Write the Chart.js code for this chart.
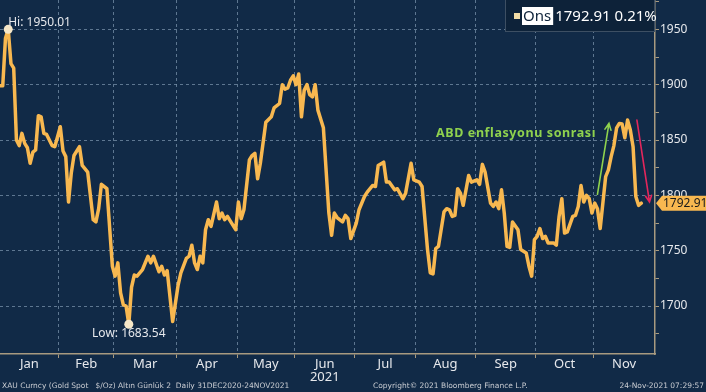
<!DOCTYPE html>
<html>
<head>
<meta charset="utf-8">
<script src="https://cdn.jsdelivr.net/npm/chart.js@4.4.0/dist/chart.umd.min.js"></script>
<style>
  html, body { margin: 0; padding: 0; background: #112a47; }
  #wrap { width: 706px; height: 392px; position: relative; }
</style>
</head>
<body>
<div id="wrap"><canvas id="gold"></canvas></div>
<script>
// Gold spot (XAU) daily, 31 Dec 2020 - 24 Nov 2021, x = weekday number since 31 Dec
const tradingDay = [0,1,2,3,4,5,6,7,8,9,10,11,12,13,14,15,16,17,19,20,22,23,24,25,26,27,29,30,32,34,35,36,37,39,
  41,42,43,44,45,46,47,48,49,50,52,54,55,56,58,59,60,61,63,65,66,68,69,70,71,72,73,74,75,76,77,79,80,
  81,82,83,84,86,87,88,89,91,92,93,94,95,97,99,100,102,103,104,105,106,107,108,109,110,111,112,113,114,115,116,118,
  120,121,122,123,125,126,127,128,130,131,133,134,136,137,138,140,141,142,144,145,147,148,150,151,153,154,156,157,158,159,160,
  162,163,164,165,166,167,168,169,171,172,174,175,176,177,179,180,181,182,183,184,185,186,187,189,190,192,193,194,195,196,197,198,199,200,
  202,203,204,205,206,207,209,210,211,212,213,214,215,216,217,218,219,221,222,223,224,225,226,227,228,229,230,231,232,233,234];
const price = [1899,1899,1942,1950.01,1919,1915,1850,1845,1856,1847,1843,1829,1839,1841,1872,1871,1856,1855,1845,1844,1862,1840,1835,1794,1820,1836,1844,1827,1821,1778,1776,1788,1810,1806,
  1736,1727,1739,1712,1701,1700,1683.54,1717,1728,1727,1733,1745,1739,1745,1731,1736,1728,1732,1686,1719,1730,1743,1745,1755,1739,1733,1745,1739,1769,1778,1772,1794,1779,
  1784,1778,1781,1777,1769,1794,1779,1787,1832,1836,1838,1815,1829,1866,1871,1879,1883,1900,1896,1897,1904,1908,1900,1909.6,1871,1895,1900,1891,1889,1900,1877,1861,
  1784,1764,1784,1780,1776,1782,1779,1761,1775,1787,1799,1803,1809,1808,1827,1830,1812,1812,1805,1806,1797,1802,1829,1814,1812,1808,1751,1730,1729,1752,1754,
  1785,1788,1787,1781,1782,1806,1802,1791,1818,1812,1814,1810,1828,1821,1793,1790,1794,1788,1805,1784,1754,1753,1776,1769,1751,1748,1736,1727,1760,1763,1770,1761,1763,1757,
  1757,1755,1781,1797,1766,1767,1781,1782,1790,1809,1794,1800,1797,1784,1793,1788,1770,1817,1823,1835,1845,1861,1865,1864.5,1852,1868,1859,1844,1799,1791,1792.91];

const months = ['Jan','Feb','Mar','Apr','May','Jun','Jul','Aug','Sep','Oct','Nov'];
const monthFirstDay = [1,22,42,65,87,108,130,152,174,196,217];
const yearLabel = '2021';
const yearUnder = 'Jun';
const priceTicks = [1675,1700,1725,1750,1775,1800,1825,1850,1875,1900,1925,1950,1975];
const labelledTicks = [1700,1750,1800,1850,1900,1950];

const seriesName = 'Ons';
const changePct = '0.21%';
const noteText = 'ABD enflasyonu sonrası';
const footerLeft = 'XAU Curncy (Gold Spot   $/Oz) Altın Günlük 2  Daily 31DEC2020-24NOV2021';
const footerMid = 'Copyright\u00A9 2021 Bloomberg Finance L.P.';
const footerRight = '24-Nov-2021 07:29:57';

const X_MIN = 0, X_MAX = 239, Y_MIN = 1656.7, Y_MAX = 1976.5;

const BG = '#112a47';
const LINE = '#f8b850';
const GRID = 'rgba(120,145,170,0.75)';
const AXIS = '#a89a80';
const TXT = '#e6e8ec';
const GREEN = '#8fd24e';
const RED = '#e3265c';

// annotation placement in data space (trading day, price)
const greenArrow = { from: [218, 1801], to: [222.2, 1865] };
const redArrow = { from: [232.4, 1868], to: [237, 1794] };
const noteAt = [188.3, 1856];

const last = price[price.length - 1];
const hiIdx = price.indexOf(Math.max(...price));
const loIdx = price.indexOf(Math.min(...price));

// month boundaries -> grid ticks, month middles -> label ticks
const bounds = monthFirstDay.map((d, i) => i === 0 ? X_MIN : d - 0.5);
bounds.push(X_MAX);
const xTicks = [];
for (let i = 1; i < months.length; i++) xTicks.push({ value: bounds[i], grid: true });
months.forEach((m, i) => xTicks.push({ value: (bounds[i] + bounds[i + 1]) / 2, grid: false, name: m }));
xTicks.sort((a, b) => a.value - b.value);

function arrow(ctx, x1, y1, x2, y2, color) {
  const a = Math.atan2(y2 - y1, x2 - x1), h = 7;
  ctx.save();
  ctx.strokeStyle = color;
  ctx.lineWidth = 1.6;
  ctx.lineCap = 'round';
  ctx.beginPath();
  ctx.moveTo(x1, y1); ctx.lineTo(x2, y2);
  ctx.moveTo(x2 - h * Math.cos(a - 0.45), y2 - h * Math.sin(a - 0.45));
  ctx.lineTo(x2, y2);
  ctx.lineTo(x2 - h * Math.cos(a + 0.45), y2 - h * Math.sin(a + 0.45));
  ctx.stroke();
  ctx.restore();
}

const decor = {
  id: 'decor',
  afterDatasetsDraw(chart) {
    const { ctx, scales: { x, y } } = chart;
    const pts = chart.getDatasetMeta(0).data;
    ctx.save();
    ctx.fillStyle = TXT;
    ctx.font = '12px "Noto Sans"';
    ctx.textBaseline = 'alphabetic';
    ctx.textAlign = 'left';
    ctx.fillText('Hi: ' + price[hiIdx].toFixed(2), pts[hiIdx].x, pts[hiIdx].y - 3);
    ctx.textAlign = 'center';
    ctx.textBaseline = 'top';
    ctx.fillText('Low: ' + price[loIdx].toFixed(2), pts[loIdx].x, pts[loIdx].y + 3);

    arrow(ctx, x.getPixelForValue(greenArrow.from[0]), y.getPixelForValue(greenArrow.from[1]),
      x.getPixelForValue(greenArrow.to[0]), y.getPixelForValue(greenArrow.to[1]), GREEN);
    arrow(ctx, x.getPixelForValue(redArrow.from[0]), y.getPixelForValue(redArrow.from[1]),
      x.getPixelForValue(redArrow.to[0]), y.getPixelForValue(redArrow.to[1]), RED);
    ctx.fillStyle = GREEN;
    ctx.font = 'bold 12.5px "Noto Sans"';
    ctx.letterSpacing = '0.6px';
    ctx.textAlign = 'center';
    ctx.textBaseline = 'middle';
    ctx.fillText(noteText, x.getPixelForValue(noteAt[0]), y.getPixelForValue(noteAt[1]));
    ctx.restore();
  },
  afterDraw(chart) {
    const { ctx, chartArea, scales: { y } } = chart;
    ctx.save();
    // legend box
    const bx = chartArea.right - 150, bw = 150, bh = 32;
    ctx.fillStyle = '#0d2239';
    ctx.fillRect(bx, -1, bw, bh + 1);
    ctx.strokeStyle = '#3d4f63';
    ctx.lineWidth = 1;
    ctx.strokeRect(bx + 0.5, -0.5, bw - 1, bh);
    ctx.fillStyle = '#f1dca6';
    ctx.fillRect(bx + 9, 13, 6, 6);
    ctx.font = '15px "Noto Sans"';
    ctx.textBaseline = 'middle';
    ctx.textAlign = 'left';
    const nw = ctx.measureText(seriesName).width;
    ctx.fillStyle = '#ffffff';
    ctx.fillRect(bx + 17, 7, nw + 3, 18);
    ctx.fillStyle = '#0d2239';
    ctx.fillText(seriesName, bx + 18, 16.5);
    ctx.fillStyle = '#ffffff';
    ctx.fillText(last.toFixed(2) + ' ' + changePct, bx + 22 + nw, 16.5);

    // last price tag on the axis
    const ty = y.getPixelForValue(last);
    const tx = chartArea.right + 1;
    ctx.fillStyle = LINE;
    ctx.beginPath();
    ctx.moveTo(tx, ty);
    ctx.lineTo(tx + 6, ty - 7.5);
    ctx.lineTo(706, ty - 7.5);
    ctx.lineTo(706, ty + 7.5);
    ctx.lineTo(tx + 6, ty + 7.5);
    ctx.closePath();
    ctx.fill();
    ctx.fillStyle = '#1a1a1a';
    ctx.font = '12px "Noto Sans"';
    ctx.fillText(last.toFixed(2), tx + 7, ty + 0.5);

    // footer
    ctx.fillStyle = '#c9ccd2';
    ctx.font = '7.5px "DejaVu Sans"';
    ctx.textBaseline = 'middle';
    ctx.fillText(footerLeft, 2, 386);
    ctx.fillText(footerMid, 373, 386);
    ctx.textAlign = 'right';
    ctx.fillText(footerRight, 704, 386);
    ctx.restore();
  }
};

const bgPlugin = {
  id: 'bg',
  beforeDraw(chart) {
    const ctx = chart.ctx;
    ctx.save();
    ctx.fillStyle = BG;
    ctx.fillRect(0, 0, chart.width, chart.height);
    ctx.restore();
  }
};

new Chart(document.getElementById('gold'), {
  type: 'line',
  data: {
    datasets: [{
      data: tradingDay.map((d, i) => ({ x: d, y: price[i] })),
      borderColor: LINE,
      borderWidth: 3.5,
      borderJoinStyle: 'round',
      borderCapStyle: 'round',
      tension: 0,
      pointRadius: ctx => (ctx.dataIndex === hiIdx || ctx.dataIndex === loIdx) ? 4.5 : 0,
      pointBackgroundColor: '#f6e7c8',
      pointBorderWidth: 0,
      clip: 4
    }]
  },
  options: {
    responsive: true,
    maintainAspectRatio: false,
    animation: false,
    layout: { padding: 0 },
    plugins: { legend: { display: false }, tooltip: { enabled: false } },
    scales: {
      x: {
        type: 'linear',
        position: 'bottom',
        min: X_MIN,
        max: X_MAX,
        afterBuildTicks: s => { s.ticks = xTicks.map(t => ({ ...t })); },
        afterFit: s => { s.height = 38; s.paddingLeft = 0; s.paddingRight = 0; },
        grid: {
          color: c => (c.tick && c.tick.grid) ? GRID : 'rgba(0,0,0,0)',
          tickColor: c => (c.tick && c.tick.grid) ? AXIS : 'rgba(0,0,0,0)',
          lineWidth: 1,
          tickLength: 4,
          drawOnChartArea: true
        },
        border: { display: true, color: AXIS, width: 1.5, dash: [3, 3] },
        ticks: {
          autoSkip: false,
          maxRotation: 0,
          minRotation: 0,
          padding: 0,
          color: TXT,
          font: { family: 'Noto Sans', size: 13, lineHeight: 1.0 },
          callback: (v, i, ticks) => {
            const t = ticks[i];
            if (t.grid) return '';
            return t.name === yearUnder ? [t.name, yearLabel] : t.name;
          }
        }
      },
      y: {
        type: 'linear',
        position: 'right',
        min: Y_MIN,
        max: Y_MAX,
        afterBuildTicks: s => { s.ticks = priceTicks.map(v => ({ value: v })); },
        afterFit: s => { s.width = 51; s.paddingTop = 0; s.paddingBottom = 0; },
        grid: {
          color: c => (c.tick && labelledTicks.includes(c.tick.value)) ? GRID : 'rgba(0,0,0,0)',
          tickColor: AXIS,
          lineWidth: 1,
          tickLength: 4
        },
        border: { display: true, color: AXIS, width: 1.5, dash: [3, 3] },
        ticks: {
          padding: 1,
          color: TXT,
          font: { family: 'Noto Sans', size: 12 },
          callback: v => labelledTicks.includes(v) ? String(v) : ''
        }
      }
    }
  },
  plugins: [bgPlugin, decor]
});
</script>
</body>
</html>
